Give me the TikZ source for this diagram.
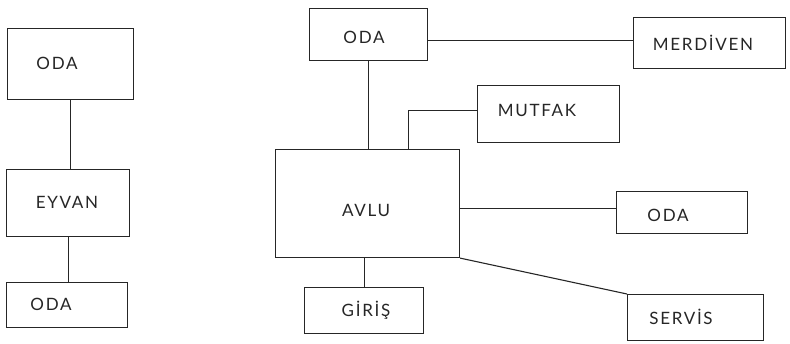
\documentclass[tikz,border=0pt]{standalone}
\usepackage{fontspec}
\setmainfont{Lato}[LetterSpace=10]
\begin{document}
\begin{tikzpicture}[x=1pt,y=-1pt,
  box/.style={draw=black!85, line width=1.1pt, inner sep=0pt, anchor=north west},
  lbl/.style={font=\fontsize{17}{20}\selectfont, text=black!85, inner sep=0pt},
  conn/.style={draw=black!85, line width=1.1pt}]
\useasboundingbox (0,0) rectangle (790,343);
% boxes
\node[box, minimum width=126pt, minimum height=71pt] (oda1) at (7,28) {};
\node[box, minimum width=123pt, minimum height=67pt] (eyvan) at (6,169) {};
\node[box, minimum width=121pt, minimum height=45pt] (oda2) at (6,282) {};
\node[box, minimum width=118pt, minimum height=52pt] (oda3) at (309,8) {};
\node[box, minimum width=152pt, minimum height=51pt] (merdiven) at (633,17) {};
\node[box, minimum width=142pt, minimum height=57pt] (mutfak) at (477,85) {};
\node[box, minimum width=184pt, minimum height=108pt] (avlu) at (275,149) {};
\node[box, minimum width=131pt, minimum height=42pt] (oda4) at (616,191) {};
\node[box, minimum width=119pt, minimum height=46pt] (giris) at (304,287) {};
\node[box, minimum width=136pt, minimum height=46pt] (servis) at (627,294) {};
% labels
\node[lbl] (t1) at (57,63) {ODA};
\node[lbl] (t2) at (67,202) {EYVAN};
\node[lbl] (t3) at (51,304) {ODA};
\node[lbl] (t4) at (364,37) {ODA};
\node[lbl] (t5) at (703,43) {MERDİVEN};
\node[lbl] (t6) at (537,110) {MUTFAK};
\node[lbl] (t7) at (366,210) {AVLU};
\node[lbl] (t8) at (668,215) {ODA};
\node[lbl] (t9) at (366,310) {GİRİŞ};
\node[lbl] (t10) at (681,317) {SERVİS};
% connectors
\draw[conn] (oda1.south) -- (oda1.south |- eyvan.north);
\draw[conn] (eyvan.south) -- (eyvan.south |- oda2.north);
\draw[conn] (oda3.south) -- (oda3.south |- avlu.north);
\draw[conn] ([yshift=2.5pt]merdiven.west) -- ([yshift=2.5pt]merdiven.west -| oda3.east);
\draw[conn] ([yshift=3.5pt]mutfak.west) -| ([xshift=41pt]avlu.north);
\draw[conn] ([yshift=4pt]oda4.west) -- ([yshift=4pt]oda4.west -| avlu.east);
\draw[conn] (giris.north) -- (giris.north |- avlu.south);
\draw[conn] (avlu.south east) -- (servis.north west);
\end{tikzpicture}
\end{document}
